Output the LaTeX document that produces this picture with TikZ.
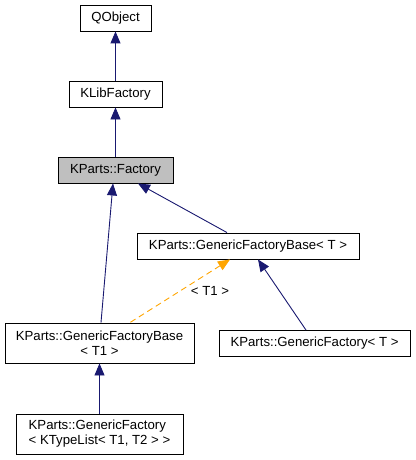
\documentclass[tikz,border=0pt]{standalone}
\usepackage{fontspec}
\setmainfont{Liberation Sans}
\usepackage{tikz}
\usetikzlibrary{arrows.meta,positioning}
\definecolor{edgeblue}{HTML}{191970}
\definecolor{tmplorange}{HTML}{FFA500}

\begin{document}
\begin{tikzpicture}[x=1pt,y=-1pt,
    cls/.style={draw=black, line width=0.9pt, fill=white, inner sep=0pt,
      minimum height=26pt, font=\fontsize{13.2}{15}\selectfont},
    cur/.style={cls, fill=black!25},
    inherit/.style={draw=edgeblue, color=edgeblue, line width=0.9pt,
      {Triangle[length=12pt,width=10pt]}-},
    tmpl/.style={draw=tmplorange, line width=0.9pt, dash pattern=on 6pt off 4pt,
      {Triangle[length=12pt,width=10pt,fill=tmplorange]}-}]
  \useasboundingbox (0,0) rectangle (415,460);
  % Classes
  \node[cls, minimum width=71pt] (qobject) at (115.5,18) {QObject};
  \node[cls, minimum width=93pt] (klibfactory) at (115.5,94) {KLibFactory};
  \node[cur, minimum width=115pt] (factory) at (115.5,170) {KParts::Factory};
  \node[cls, minimum width=222pt] (gfbaseT) at (248,246) {KParts::GenericFactoryBase< T >};
  \node[cls, minimum width=189pt, minimum height=40pt, align=center] (gfbaseTone) at (99.5,343)
    {KParts::GenericFactoryBase\\< T1 >};
  \node[cls, minimum width=191pt] (gfactoryT) at (314.5,343.5) {KParts::GenericFactory< T >};
  \node[cls, minimum width=167pt, minimum height=40pt, align=left] (gfactoryList) at (99.5,434)
    {KParts::GenericFactory\\< KTypeList< T1, T2 > >};
  % Inheritance
  \draw[inherit] (qobject.south) -- (klibfactory.north);
  \draw[inherit] (klibfactory.south) -- (factory.north);
  \draw[inherit] ([xshift=-2.5pt]factory.south) -- ([xshift=1.5pt]gfbaseTone.north);
  \draw[inherit] ([xshift=22.5pt]factory.south) -- ([xshift=-21pt]gfbaseT.north);
  \draw[inherit] ([xshift=10pt]gfbaseT.south) -- ([xshift=-8.5pt]gfactoryT.north);
  \draw[inherit] (gfbaseTone.south) -- (gfactoryList.north);
  % Template instance
  \draw[tmpl] ([xshift=-18pt]gfbaseT.south) -- ([xshift=30.5pt]gfbaseTone.north);
  \node[font=\fontsize{13.2}{15}\selectfont, inner sep=0pt] (instlabel) at (210,291) {< T1 >};
\end{tikzpicture}
\end{document}
